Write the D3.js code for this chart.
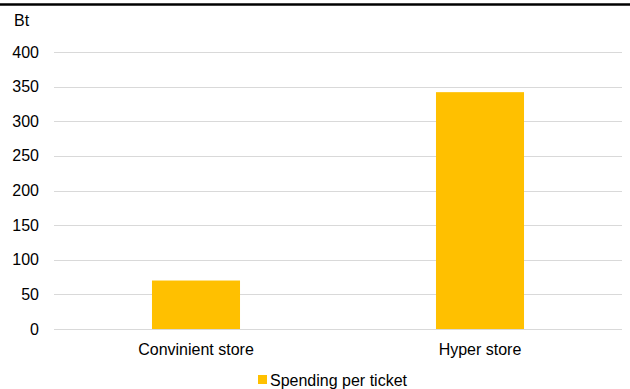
<!DOCTYPE html>
<html><head><meta charset="utf-8">
<script src="https://cdn.jsdelivr.net/npm/d3@7"></script>
<style>body{margin:0;background:#fff}svg{display:block;font-family:"Liberation Sans",Arial,sans-serif}</style>
</head><body><svg id="c" width="630" height="389"></svg>
<script>
const categories = ["Convinient store", "Hyper store"];
const values = [70, 342];
const yTicks = [0, 50, 100, 150, 200, 250, 300, 350, 400];
const seriesName = "Spending per ticket";
const unitLabel = "Bt";

const svg = d3.select("#c");
const L = 54, R = 622, T = 52, B = 329;
const x = d3.scaleBand().domain(categories).range([L, R]).paddingInner(0.69).paddingOuter(0.345);
const y = d3.scaleLinear().domain([0, 400]).range([B, T]);

svg.append("line").attr("x1", 0).attr("x2", 630).attr("y1", 4.5).attr("y2", 4.5).attr("stroke", "#000").attr("stroke-width", 2.5);

const g = svg.append("g");
g.selectAll("line.grid").data(yTicks).join("line")
  .attr("x1", L).attr("x2", R).attr("y1", d => Math.round(y(d)) + 0.5).attr("y2", d => Math.round(y(d)) + 0.5)
  .attr("stroke", "#d9d9d9").attr("stroke-width", 1);
g.selectAll("text.tick").data(yTicks).join("text")
  .attr("x", 39).attr("y", d => y(d)).attr("dy", "0.35em").attr("text-anchor", "end")
  .attr("font-size", 16).attr("fill", "#000").text(d => d);

svg.selectAll("rect.bar").data(values).join("rect")
  .attr("x", (d, i) => x(categories[i])).attr("width", x.bandwidth())
  .attr("y", d => y(d)).attr("height", d => y(0) - y(d)).attr("fill", "#FFC000");

svg.selectAll("text.cat").data(categories).join("text")
  .attr("x", d => x(d) + x.bandwidth() / 2).attr("y", 355).attr("text-anchor", "middle")
  .attr("font-size", 16).attr("fill", "#000").text(d => d);

svg.append("text").attr("x", 14).attr("y", 26).attr("font-size", 16).attr("fill", "#000").text(unitLabel);

svg.append("rect").attr("x", 258).attr("y", 375).attr("width", 9).attr("height", 9).attr("fill", "#FFC000");
svg.append("text").attr("x", 270).attr("y", 386).attr("font-size", 16).attr("fill", "#000").text(seriesName);
</script></body></html>
